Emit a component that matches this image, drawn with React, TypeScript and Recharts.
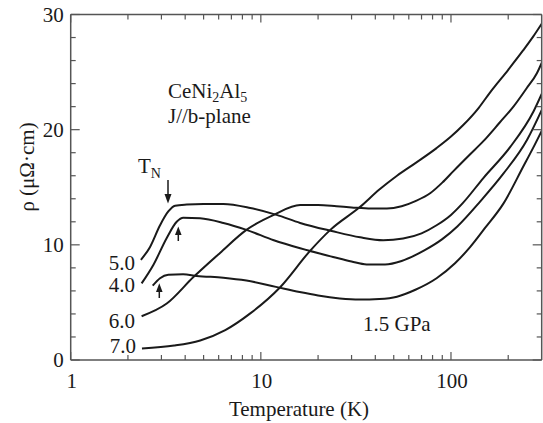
import { LineChart, Line, XAxis, YAxis } from "recharts";

// resistivity of CeNi2Al5 vs temperature at several pressures
const t15 = [2.7, 2.95, 3.26, 3.9, 4.6, 6.35, 8.4, 12, 16, 20, 26, 33, 42, 52, 65, 84, 105, 126, 150, 189, 240, 270, 300];
const r15 = [6.45, 7.1, 7.4, 7.45, 7.3, 7.15, 6.9, 6.35, 5.9, 5.6, 5.35, 5.25, 5.3, 5.5, 6.1, 7.1, 8.4, 9.8, 11.4, 13.6, 16.8, 18.4, 19.9];

const t40 = [2.36, 2.72, 3.2, 3.61, 3.91, 4.79, 6.35, 8.4, 11.7, 16.1, 24, 30, 36, 45, 55, 72, 90, 108, 143, 189, 251, 300];
const r40 = [6.65, 8.25, 10.6, 12.0, 12.35, 12.3, 11.9, 11.3, 10.4, 9.7, 8.95, 8.55, 8.3, 8.3, 8.6, 9.5, 10.5, 11.6, 13.8, 16.2, 19.1, 21.7];

const t50 = [2.34, 2.61, 2.95, 3.26, 3.54, 4.08, 5, 6.35, 8.8, 12.1, 16.1, 23.6, 33.3, 44, 56, 70, 84, 100, 115, 148, 205, 272, 300];
const r50 = [8.7, 9.8, 11.7, 12.9, 13.4, 13.5, 13.55, 13.55, 13.2, 12.6, 11.9, 11.2, 10.65, 10.4, 10.55, 11.0, 11.7, 12.6, 13.6, 15.8, 18.5, 21.6, 23.1];

const t60 = [2.36, 3.2, 4.42, 6.1, 8.4, 11.7, 16.1, 20, 25, 30, 38, 46, 55, 65, 78, 90, 103, 125, 148, 180, 213, 250, 283, 300];
const r60 = [3.8, 4.9, 7.2, 9.3, 11.3, 12.6, 13.45, 13.45, 13.35, 13.25, 13.15, 13.15, 13.35, 13.8, 14.5, 15.4, 16.4, 17.8, 19.0, 20.6, 22.0, 23.6, 24.9, 25.8];

const t70 = [2.37, 3.5, 4.8, 6.5, 8.8, 12.6, 18.2, 23.2, 33.3, 42, 52, 65, 84, 100, 116, 140, 160, 200, 240, 271, 300];
const r70 = [1.0, 1.25, 1.7, 2.6, 4.05, 6.3, 9.5, 11.3, 13.3, 14.8, 16.0, 17.1, 18.4, 19.4, 20.4, 21.9, 23.2, 25.2, 26.9, 28.1, 29.2];

const xTicks = [1, 2, 3, 4, 5, 6, 7, 8, 9, 10, 20, 30, 40, 50, 60, 70, 80, 90, 100, 200];
const xLabels = [1, 10, 100];
const yTicks = [0, 2, 4, 6, 8, 10, 12, 14, 16, 18, 20, 22, 24, 26, 28, 30];
const yLabels = [0, 10, 20, 30];

const mk = (t: number[], r: number[]) => t.map((v, i) => ({ t: v, r: r[i] }));
const curves = [mk(t15, r15), mk(t40, r40), mk(t50, r50), mk(t60, r60), mk(t70, r70)];

const FONT = '"Liberation Serif", "Times New Roman", serif';
const AXIS = "#555";
const INK = "#1a1a1a";

function BottomTick({ x, y, payload }: any) {
  const major = xLabels.includes(payload.value);
  return (
    <g>
      <line x1={x} x2={x} y1={y} y2={y - (major ? 8 : 5)} stroke={AXIS} strokeWidth={1.2} />
      {major && (
        <text x={x + 1} y={y + 28} textAnchor="middle" fontSize={21} fontFamily={FONT} fill={INK}>
          {payload.value}
        </text>
      )}
    </g>
  );
}

function TopTick({ x, y, payload }: any) {
  const major = xLabels.includes(payload.value);
  return <line x1={x} x2={x} y1={y} y2={y + (major ? 8 : 5)} stroke={AXIS} strokeWidth={1.2} />;
}

function LeftTick({ x, y, payload }: any) {
  const major = yLabels.includes(payload.value);
  return (
    <g>
      <line x1={x} x2={x + (major ? 9 : 5)} y1={y} y2={y} stroke={AXIS} strokeWidth={1.2} />
      {major && (
        <text x={x - 7} y={y} dy="0.35em" textAnchor="end" fontSize={21} fontFamily={FONT} fill={INK}>
          {payload.value}
        </text>
      )}
    </g>
  );
}

function RightTick({ x, y, payload }: any) {
  const major = yLabels.includes(payload.value);
  return <line x1={x} x2={x - (major ? 9 : 5)} y1={y} y2={y} stroke={AXIS} strokeWidth={1.2} />;
}

export default function App() {
  return (
    <div style={{ position: "fixed", left: 0, top: 0, width: 543, height: 423, background: "#fff" }}>
      <LineChart width={543} height={423} margin={{ top: 13.5, right: 0.3, bottom: 0, left: 0 }}>
        <XAxis
          xAxisId="b"
          dataKey="t"
          type="number"
          scale="log"
          domain={[1, 300]}
          allowDataOverflow
          ticks={xTicks}
          interval={0}
          height={63}
          tickSize={0}
          tickMargin={0}
          tickLine={false}
          tick={<BottomTick />}
          axisLine={{ stroke: AXIS, strokeWidth: 1.5 }}
        />
        <XAxis
          xAxisId="t"
          orientation="top"
          dataKey="t"
          type="number"
          scale="log"
          domain={[1, 300]}
          allowDataOverflow
          ticks={xTicks}
          interval={0}
          height={1}
          tickSize={0}
          tickMargin={0}
          tickLine={false}
          tick={<TopTick />}
          axisLine={{ stroke: AXIS, strokeWidth: 1.5 }}
        />
        <YAxis
          yAxisId="l"
          type="number"
          domain={[0, 30]}
          allowDataOverflow
          ticks={yTicks}
          interval={0}
          width={70.7}
          tickSize={0}
          tickMargin={0}
          tickLine={false}
          tick={<LeftTick />}
          axisLine={{ stroke: AXIS, strokeWidth: 1.5 }}
        />
        <YAxis
          yAxisId="r"
          orientation="right"
          type="number"
          domain={[0, 30]}
          allowDataOverflow
          ticks={yTicks}
          interval={0}
          width={1}
          tickSize={0}
          tickMargin={0}
          tickLine={false}
          tick={<RightTick />}
          axisLine={{ stroke: AXIS, strokeWidth: 1.5 }}
        />
        {curves.map((d, i) => (
          <Line
            key={i}
            xAxisId="b"
            yAxisId="l"
            data={d}
            dataKey="r"
            type="monotone"
            stroke={INK}
            strokeWidth={2}
            dot={false}
            isAnimationActive={false}
          />
        ))}
      </LineChart>
      <svg
        width={543}
        height={423}
        style={{ position: "absolute", left: 0, top: 0, pointerEvents: "none" }}
        fontFamily={FONT}
        fill={INK}
      >
        <text x={168} y={98} fontSize={21}>
          CeNi<tspan dy={4} fontSize={14}>2</tspan>
          <tspan dy={-4}>Al</tspan>
          <tspan dy={4} fontSize={14}>5</tspan>
        </text>
        <text x={168} y={123} fontSize={21}>J//b-plane</text>
        <text x={138} y={173} fontSize={21}>
          T<tspan dy={5} fontSize={14}>N</tspan>
        </text>
        <line x1={168} x2={168} y1={180} y2={196} stroke={INK} strokeWidth={1.5} />
        <polygon points="164.5,194 171.5,194 168,203.5" />
        <line x1={178.3} x2={178.3} y1={234} y2={241} stroke={INK} strokeWidth={1.5} />
        <polygon points="175,235 181.6,235 178.3,226.5" />
        <line x1={159.3} x2={159.3} y1={291} y2={298} stroke={INK} strokeWidth={1.5} />
        <polygon points="156,292 162.6,292 159.3,283.3" />
        <text x={135} y={270} fontSize={21} textAnchor="end">5.0</text>
        <text x={135} y={292} fontSize={21} textAnchor="end">4.0</text>
        <text x={135} y={328} fontSize={21} textAnchor="end">6.0</text>
        <text x={136} y={353} fontSize={21} textAnchor="end">7.0</text>
        <text x={363} y={331} fontSize={21}>1.5 GPa</text>
        <text x={299} y={416} fontSize={21} textAnchor="middle">Temperature (K)</text>
        <text x={34} y={167} fontSize={21} textAnchor="middle" transform="rotate(-90 34 167)">
          ρ (μΩ·cm)
        </text>
      </svg>
    </div>
  );
}
